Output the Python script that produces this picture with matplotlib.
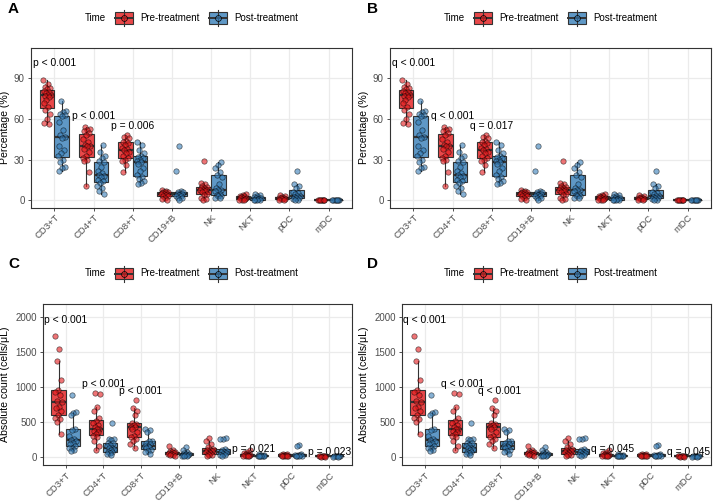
import matplotlib.pyplot as plt
import numpy as np
from matplotlib.patches import Rectangle
from matplotlib.lines import Line2D
from matplotlib.colors import to_rgba

plt.rcParams['font.family'] = ['Liberation Sans', 'DejaVu Sans']

cells = ["CD3+T", "CD4+T", "CD8+T", "CD19+B", "NK", "NKT", "pDC", "mDC"]

# percentage of lymphocytes, one list per cell type
pct_pre = [
    [89, 86, 84, 83, 82, 81, 80, 79, 78, 78, 77, 76, 74, 72, 69, 67, 64, 60, 57, 56],
    [54, 53, 52, 51, 50, 48, 45, 43, 41, 40, 40, 38, 36, 33, 31, 30, 29, 21, 11],
    [48, 47, 46, 44, 43, 42, 41, 39, 38, 37, 36, 35, 33, 31, 30, 29, 26, 21],
    [8, 7, 6.5, 6, 6, 5.5, 5, 5, 4.5, 4, 3.5, 3, 2, 1, 0.5],
    [29, 13, 12, 11, 10, 9, 9, 8, 8, 7.5, 7, 6, 5, 4, 2, 1, 0.5],
    [4.5, 4, 3.5, 3, 2.5, 2, 2, 1.5, 1, 0.5, 0.3, 0.1],
    [4, 3, 2.5, 2, 1.5, 1.5, 1.2, 1, 0.5, 0.2],
    [0.5, 0.4, 0.3, 0.2, 0.2, 0.1, 0.1, 0.05],
]
pct_post = [
    [73, 66, 65, 64, 63, 62, 58, 52, 48, 47, 46, 40, 37, 35, 33, 30, 28, 25, 24, 22],
    [41, 36, 33, 31, 29, 28, 25, 22, 20, 19, 18, 17, 15, 14, 13, 11, 9, 7, 5],
    [43, 41, 37, 35, 33, 32, 31, 30, 29, 28, 27, 24, 22, 19, 17, 16, 14, 13, 12],
    [40, 22, 7, 6.5, 6, 5, 5, 4.5, 4, 3.5, 3, 2, 1.5, 0.5],
    [28, 26, 24, 21, 19, 17, 12, 9, 8, 7.5, 7, 5, 4, 3, 3, 2, 1.5],
    [5, 4, 3, 2.5, 2, 1.5, 1.5, 1, 0.5, 0.3, 0.2, 0.1],
    [22, 12, 11, 9, 6, 5.5, 5, 3.5, 3, 2.5, 2, 1.5, 1, 0.5, 0.2],
    [0.6, 0.5, 0.4, 0.3, 0.2, 0.2, 0.1],
]

# absolute counts (cells/uL)
abs_pre = [
    [1730, 1550, 1370, 1100, 960, 930, 880, 800, 780, 720, 700, 650, 600, 560, 540, 500, 320],
    [910, 900, 720, 660, 550, 510, 480, 450, 420, 400, 390, 370, 350, 320, 300, 280, 220, 160, 100],
    [820, 700, 650, 600, 480, 470, 450, 430, 420, 400, 350, 300, 280, 260, 220, 180, 120],
    [150, 100, 80, 70, 60, 55, 50, 45, 40, 30, 20, 10],
    [270, 220, 180, 140, 110, 100, 90, 80, 70, 60, 50, 40, 30, 20, 10],
    [92, 70, 55, 40, 35, 30, 25, 20, 15, 10, 5, 3],
    [40, 35, 30, 25, 20, 15, 12, 10, 8, 5],
    [10, 8, 6, 5, 4, 3, 2, 1],
]
abs_post = [
    [880, 640, 620, 600, 400, 380, 300, 260, 240, 230, 200, 180, 150, 130, 120, 100, 80],
    [480, 260, 250, 240, 200, 190, 170, 150, 130, 120, 110, 90, 70, 60, 50, 40, 30],
    [400, 380, 350, 230, 220, 200, 180, 160, 150, 140, 120, 100, 80, 60, 40],
    [140, 100, 60, 50, 40, 35, 30, 25, 20, 15, 10, 5],
    [270, 260, 250, 110, 100, 80, 70, 60, 50, 40, 30, 20, 10],
    [35, 25, 20, 15, 12, 10, 8, 5, 3],
    [170, 160, 40, 30, 25, 20, 15, 10, 5, 3],
    [8, 6, 5, 4, 3, 2, 1],
]

# significance labels: (category index, text, y)
lab_A = [(0, "p < 0.001", 101), (1, "p < 0.001", 62), (2, "p = 0.006", 55)]
lab_B = [(0, "q < 0.001", 101), (1, "q < 0.001", 62), (2, "q = 0.017", 55)]
lab_C = [(0, "p < 0.001", 1960), (1, "p < 0.001", 1040), (2, "p < 0.001", 945),
         (5, "p = 0.021", 105), (7, "p = 0.023", 65)]
lab_D = [(0, "q < 0.001", 1960), (1, "q < 0.001", 1040), (2, "q < 0.001", 945),
         (5, "q = 0.045", 105), (7, "q = 0.045", 65)]

RED = "#E41A1C"
BLUE = "#377EB8"
W, H = 718, 501

fig = plt.figure(figsize=(W / 100, H / 100), dpi=100)


def jitter(n, k):
    # deterministic spread of points across the box width
    return np.array([((i * 0.618034 + 0.37 * k) % 1) * 2 - 1 for i in range(n)]) * 0.1


def panel(px, py, pw, ph, pre, post, labels, ylim, yticks, ylabel, ylab_px, ox, letter):
    ax = fig.add_axes([px / W, 1 - (py + ph) / H, pw / W, ph / H])
    ax.set_facecolor("white")
    for k, (data, col, off) in enumerate([(pre, RED, -0.1875), (post, BLUE, 0.1875)]):
        pos = np.arange(1, 9) + off
        bp = ax.boxplot(data, positions=pos, widths=0.375, whis=1.5, showfliers=False,
                        patch_artist=True, showcaps=False, zorder=2,
                        medianprops=dict(color="#333333", lw=1.6),
                        whiskerprops=dict(color="#333333", lw=0.8),
                        boxprops=dict(edgecolor="#333333", lw=0.8))
        for b in bp["boxes"]:
            b.set_facecolor(to_rgba(col, 0.8))
        for i, vals in enumerate(data):
            xs = pos[i] + jitter(len(vals), i + k)
            ax.scatter(xs, vals, s=15, color=col, alpha=0.6, edgecolors="black",
                       linewidths=0.5, zorder=3)
    for x, t, y in labels:
        ax.text(x + 1, y, t, ha="center", va="center", fontsize=7.4, color="black", zorder=4)
    ax.set_xlim(0.4, 8.6)
    ax.set_ylim(*ylim)
    ax.set_yticks(yticks)
    ax.set_xticks(np.arange(1, 9))
    ax.set_xticklabels(cells, rotation=45, ha="right", va="top", rotation_mode="anchor")
    ax.tick_params(labelsize=7.0, labelcolor="#4D4D4D", color="#333333", length=2.5,
                   width=0.6, pad=2)
    ax.tick_params(axis="x", labelsize=6.8, pad=1.5)
    ax.grid(True, color="#EBEBEB", lw=0.9, zorder=0)
    ax.set_axisbelow(True)
    for s in ax.spines.values():
        s.set_color("#333333")
        s.set_linewidth(0.8)
    ax.set_ylabel(ylabel, fontsize=7.6, color="black")
    ax.yaxis.set_label_coords((ylab_px - px) / pw, 0.5)
    # panel letter
    fig.text((ox + 8) / W, 1 - (py - 39) / H, letter, fontsize=11, fontweight="bold",
             ha="left", va="center")
    # legend above the panel
    ly = py - 30
    lx = ox + 31
    fig.text((lx + 54) / W, 1 - ly / H, "Time", fontsize=7.0, ha="left", va="center")
    for kx, col, txt in [(lx + 84, RED, "Pre-treatment"), (lx + 178, BLUE, "Post-treatment")]:
        fig.add_artist(Line2D([(kx + 9) / W] * 2, [1 - (ly - 8) / H, 1 - (ly + 8) / H],
                              color="#333333", lw=0.8, transform=fig.transFigure))
        fig.add_artist(Rectangle((kx / W, 1 - (ly + 5.5) / H), 18 / W, 11 / H,
                                 facecolor=to_rgba(col, 0.8),
                                 edgecolor="#333333", lw=0.8, transform=fig.transFigure))
        fig.add_artist(Line2D([kx / W, (kx + 18) / W], [1 - ly / H] * 2, color="#333333",
                              lw=1.4, transform=fig.transFigure))
        fig.add_artist(Line2D([(kx + 9) / W], [1 - ly / H], marker="o", ms=4.2,
                              markerfacecolor=to_rgba(col, 0.6),
                              markeredgecolor="black", markeredgewidth=0.5,
                              transform=fig.transFigure))
        fig.text((kx + 25) / W, 1 - ly / H, txt, fontsize=7.0, ha="left", va="center")
    return ax


panel(31, 48, 321, 159.5, pct_pre, pct_post, lab_A, (-5.2, 112.4), [0, 30, 60, 90],
      "Percentage (%)", 10, 0, "A")
panel(390, 48, 321, 159.5, pct_pre, pct_post, lab_B, (-5.2, 112.4), [0, 30, 60, 90],
      "Percentage (%)", 369, 359, "B")
panel(43, 303.5, 309, 161.5, abs_pre, abs_post, lab_C, (-120, 2200),
      [0, 500, 1000, 1500, 2000], "Absolute count (cells/μL)", 10, 0, "C")
panel(402, 303.5, 309, 161.5, abs_pre, abs_post, lab_D, (-120, 2200),
      [0, 500, 1000, 1500, 2000], "Absolute count (cells/μL)", 369, 359, "D")

fig.savefig("out.png", dpi=100)
